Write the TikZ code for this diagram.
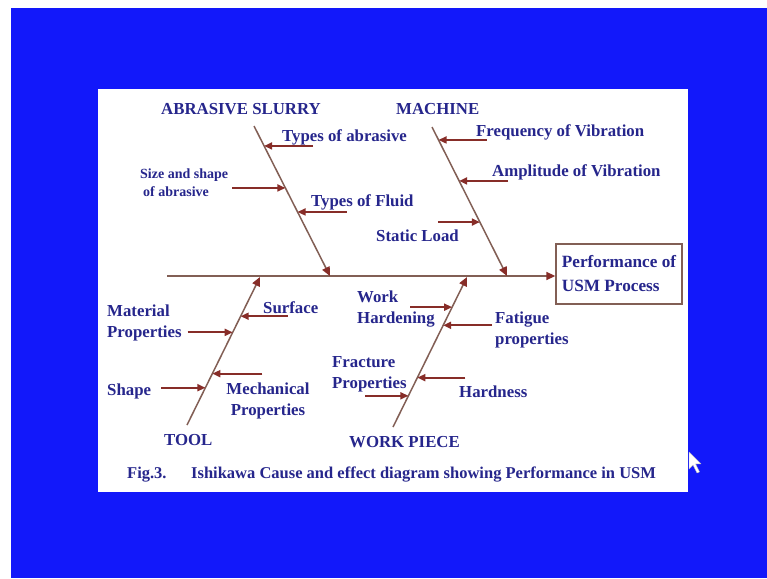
\documentclass[tikz,border=0pt]{standalone}
\usepackage{fontspec}
\setmainfont{Liberation Serif}
\usetikzlibrary{positioning,calc,arrows.meta}

\definecolor{slideblue}{RGB}{18,24,250}
\definecolor{inkblue}{RGB}{38,38,140}
\definecolor{bonered}{RGB}{135,45,40}
\definecolor{spinegray}{RGB}{130,95,85}

\begin{document}
\begin{tikzpicture}[
    x=1pt, y=-1pt,
    bone/.style={draw=spinegray, line width=1.5pt, -{Triangle[length=9pt,width=8pt,fill=bonered,color=bonered]}},
    cause/.style={draw=bonered, line width=1.8pt, -{Triangle[length=8pt,width=7pt]}},
    label/.style={text=inkblue, font=\fontsize{16.8}{21}\selectfont\bfseries, inner sep=0pt, align=left},
    small/.style={text=inkblue, font=\fontsize{14}{18}\selectfont\bfseries, inner sep=0pt, align=left},
    effect/.style={draw=spinegray, line width=1.3pt, minimum width=126pt, minimum height=60pt,
                   align=left, inner sep=0pt, text=inkblue,
                   font=\fontsize{17.2}{24}\selectfont\bfseries}
]

% Slide background
\useasboundingbox (0,0) rectangle (767,578);
\fill[white] (0,0) rectangle (767,578);
\fill[slideblue] (11,8) rectangle (767,578);
\fill[white] (98,89) rectangle (688,492);

% Effect box and spine
\node[effect] (perf) at (619,274) {Performance of\\USM Process};
\coordinate (spine) at (167,276);
\draw[bone] (spine) -- (perf.west |- spine);

% Main bones
\coordinate (as top) at (254,126);
\coordinate (as tip) at (330,276);
\coordinate (ma top) at (432,127);
\coordinate (ma tip) at (507,276);
\coordinate (to bot) at (187,425);
\coordinate (to tip) at (260,277);
\coordinate (wp bot) at (393,427);
\coordinate (wp tip) at (467,277);

\draw[bone] (as top) -- (as tip);
\draw[bone] (ma top) -- (ma tip);
\draw[bone] (to bot) -- (to tip);
\draw[bone] (wp bot) -- (wp tip);

% Points on the bones
\path (as top) -- (as tip) coordinate[pos=0.133] (as1) coordinate[pos=0.413] (as2) coordinate[pos=0.573] (as3);
\path (ma top) -- (ma tip) coordinate[pos=0.087] (ma1) coordinate[pos=0.362] (ma2) coordinate[pos=0.638] (ma3);
\path (to bot) -- (to tip) coordinate[pos=0.735] (to1) coordinate[pos=0.626] (to2) coordinate[pos=0.347] (to3) coordinate[pos=0.252] (to4);
\path (wp bot) -- (wp tip) coordinate[pos=0.799] (wp1) coordinate[pos=0.678] (wp2) coordinate[pos=0.329] (wp3) coordinate[pos=0.208] (wp4);

% Cause arrows
\foreach \n/\d in {as1/49, as2/-53, as3/49, ma1/48, ma2/49, ma3/-42,
                   to1/47, to2/-45, to3/50, to4/-44,
                   wp1/-42, wp2/49, wp3/48, wp4/-43} {
    \coordinate (\n t) at ($(\n)+(\d,0)$);
    \draw[cause] (\n t) -- (\n);
}

% Category labels
\node[label, anchor=base] (slurry) at (241,114) {ABRASIVE SLURRY};
\node[label, anchor=base west] (machine) at (396,114) {MACHINE};
\node[label, anchor=base west] (tool) at (164,445) {TOOL};
\node[label, anchor=base west] (piece) at (349,447) {WORK PIECE};

% Cause labels (base = last line)
\node[label, anchor=base west] (abr) at (282,141) {Types of abrasive};
\node[small, anchor=base west] (size) at (140,196) {Size and shape\\\hspace*{3pt}of abrasive};
\node[label, anchor=base west] (fluid) at (311,206) {Types of Fluid};
\node[label, anchor=base east] (load) at (459,241) {Static Load};
\node[label, anchor=base west] (freq) at (476,136) {Frequency of Vibration};
\node[label, anchor=base west] (ampl) at (492,176) {Amplitude of Vibration};
\node[label, anchor=base west] (surf) at (263,313) {Surface};
\node[label, anchor=base west] (matl) at (107,337) {Material\\Properties};
\node[label, anchor=base, align=center] (mech) at (268,415) {Mechanical\\Properties};
\node[label, anchor=base west] (shape) at (107,395) {Shape};
\node[label, anchor=base west] (hard) at (357,323) {Work\\Hardening};
\node[label, anchor=base west] (fat) at (495,344) {Fatigue\\properties};
\node[label, anchor=base west] (frac) at (332,388) {Fracture\\Properties};
\node[label, anchor=base west] (hness) at (459,397) {Hardness};

% Caption
\node[label, anchor=base west, font=\fontsize{16.5}{19}\selectfont\bfseries] (fig) at (127,478) {Fig.3.};
\node[label, anchor=base west, font=\fontsize{16.5}{19}\selectfont\bfseries] (caption) at (191,478) {Ishikawa Cause and effect diagram showing Performance in USM};

% Mouse pointer
\draw[fill=white, draw=gray!50, line width=0.4pt, line join=round]
    (689,452) -- ++(0,17) -- ++(4,-4) -- ++(4,8) -- ++(2.5,-1.2) -- ++(-4,-8) -- ++(5.5,0) -- cycle;

\end{tikzpicture}
\end{document}
